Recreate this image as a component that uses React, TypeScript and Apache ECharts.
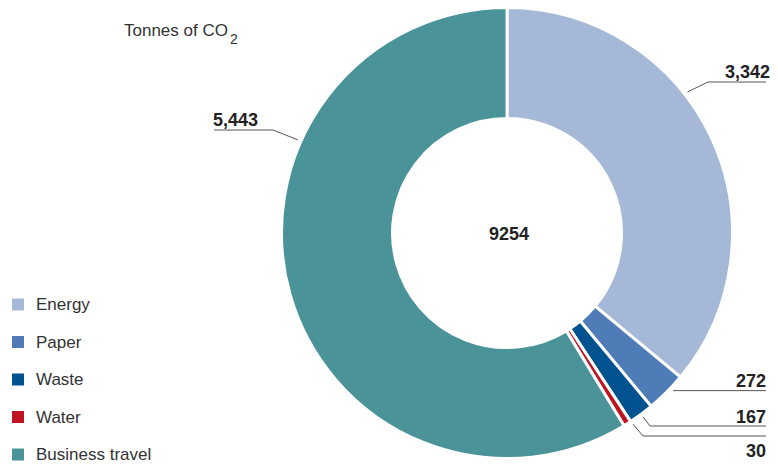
import React, { useEffect, useRef } from "react";
import * as echarts from "echarts";

const categories = ["Energy", "Paper", "Waste", "Water", "Business travel"];
const values = [3342, 272, 167, 30, 5443];
const titleText = "Tonnes of CO";
const titleSub = "2";

const colors = ["#a6b8d8", "#4f7bb6", "#00538f", "#c1121f", "#4a9399"];

const CX = 507;
const CY = 233;
const ANCHOR_R = 229;

// label layout (positions only)
const labelPlacement = [
  { angle: 52, elbow: [708, 82], end: [766, 82], text: [770, 71.5], align: "right" },
  { angle: 133.5, elbow: null, end: [766, null], text: [766, -9.5], align: "right" },
  { angle: 143.5, elbow: [650, 426], end: [766, 426], text: [766, 417], align: "right" },
  { angle: 146.6, elbow: [643, 436], end: [766, 436], text: [766, 450.5], align: "right" },
  { angle: 294, elbow: [273, 130], end: [214, 130], text: [213, 119.5], align: "left" },
];

export default function App() {
  const ref = useRef<HTMLDivElement>(null);
  useEffect(() => {
    if (!ref.current) return;
    const chart = echarts.init(ref.current, null, { renderer: "svg" });
    const total = values.reduce((a, b) => a + b, 0);
    const font = "'Liberation Sans', Arial, sans-serif";
    chart.setOption({
      animation: false,
      color: colors,
      textStyle: { fontFamily: font },
      legend: {
        orient: "vertical",
        left: 10,
        top: 296,
        padding: 0,
        itemWidth: 14,
        itemHeight: 14,
        itemGap: 20.5,
        icon: "rect",
        data: categories,
        selectedMode: false,
        textStyle: { fontSize: 17, color: "#333", fontFamily: font, padding: [0, 0, 0, 6] },
      },
      graphic: [
        {
          type: "text",
          left: 124,
          top: 22,
          style: { text: titleText, fontSize: 17, fill: "#333", fontFamily: font },
        },
        {
          type: "text",
          left: 230,
          top: 32,
          style: { text: titleSub, fontSize: 14, fill: "#333", fontFamily: font },
        },
        {
          type: "text",
          x: CX + 2,
          y: CY + 1,
          style: {
            text: String(total),
            fontSize: 18,
            fontWeight: "bold",
            fill: "#222",
            fontFamily: font,
            align: "center",
            verticalAlign: "middle",
          },
        },
      ],
      series: [
        {
          type: "pie",
          center: [CX, CY],
          radius: [114.5, 225.5],
          startAngle: 90,
          clockwise: true,
          minAngle: 2,
          avoidLabelOverlap: false,
          itemStyle: { borderColor: "#fff", borderWidth: 3 },
          emphasis: { disabled: true },
          label: {
            show: true,
            position: "outside",
            formatter: (p: any) => Number(p.value).toLocaleString("en-US"),
            fontSize: 18,
            fontWeight: "bold",
            color: "#222",
            fontFamily: font,
          },
          labelLine: {
            show: true,
            length: 10,
            length2: 20,
            lineStyle: { color: "#555", width: 1 },
          },
          labelLayout: (params: any) => {
            const pl = labelPlacement[params.dataIndex];
            const a = (pl.angle * Math.PI) / 180;
            const ax = CX + ANCHOR_R * Math.sin(a);
            const ay = CY - ANCHOR_R * Math.cos(a);
            const elbow = pl.elbow ? pl.elbow : [ax, ay];
            const endY = pl.end[1] == null ? ay : (pl.end[1] as number);
            const end = [pl.end[0], endY];
            const ty = pl.elbow ? pl.text[1] : ay + (pl.text[1] as number);
            return {
              x: pl.text[0],
              y: ty,
              align: pl.align,
              verticalAlign: "middle",
              labelLinePoints: [[ax, ay], elbow, end],
            };
          },
          data: categories.map((name, i) => ({ name, value: values[i] })),
        },
      ],
    });
    return () => chart.dispose();
  }, []);
  return (
    <div
      ref={ref}
      style={{ position: "fixed", left: 0, top: 0, width: 778, height: 466, background: "#fff" }}
    />
  );
}
